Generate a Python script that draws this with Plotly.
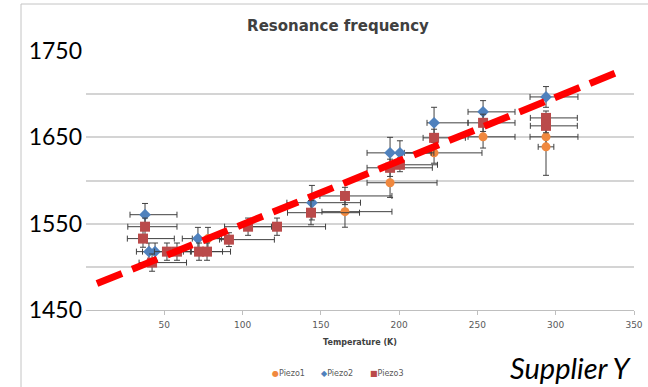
import plotly.graph_objects as go

# ---------------- data ----------------
# Piezo1 (orange circles)
p1_T = [293.8, 293.8, 253.6, 222.3, 194.2, 165.4, 77.9]
p1_F = [1650.6, 1639.0, 1650.6, 1632.0, 1597.4, 1563.9, 1532.7]
p1_Tm = [10.2, 5.0, 9.6, 19.0, 14.7, 14.7, 10.0]
p1_Tp = [20.4, 5.0, 20.4, 30.6, 30.0, 30.0, 15.0]
p1_Ferr = [10, 33, 13, 12, 17, 18, 13]

# Piezo2 (blue diamonds)
p2_T = [293.8, 253.6, 222.3, 194.2, 200.5, 144.3, 37.7, 40.2, 44.1, 71.5]
p2_F = [1696.8, 1679.5, 1666.8, 1632.0, 1632.0, 1574.3, 1560.4, 1517.6, 1517.6, 1532.7]
p2_Tm = [10.2, 9.6, 4.5, 14.7, 6.0, 16.0, 9.6, 8.0, 8.0, 10.0]
p2_Tp = [20.4, 20.4, 21.7, 28.0, 20.0, 31.0, 20.4, 15.0, 15.0, 15.0]
p2_Ferr = [12, 13, 18, 18, 14, 20, 13, 10, 10, 13]

# Piezo3 (red squares)
p3_T = [293.8, 293.8, 253.6, 222.3, 194.2, 200.5, 165.4, 143.7, 122.0, 103.5,
        91.3, 72.2, 77.3, 51.7, 58.1, 42.2, 37.7, 36.4]
p3_F = [1672.5, 1663.3, 1666.8, 1649.4, 1614.7, 1618.2, 1582.1, 1562.7, 1546.5, 1546.5,
        1531.5, 1517.6, 1517.6, 1517.6, 1517.6, 1504.9, 1546.5, 1532.7]
p3_Tm = [10.0, 10.0, 9.6, 7.0, 14.7, 6.0, 16.0, 15.0, 20.0, 15.0,
         6.0, 10.0, 10.0, 8.0, 8.0, 8.3, 11.0, 10.0]
p3_Tp = [20.0, 20.0, 20.4, 20.0, 27.0, 24.0, 30.0, 31.0, 31.0, 15.0,
         29.0, 15.0, 15.0, 15.0, 15.0, 22.0, 20.4, 20.0]
p3_Ferr = [8, 8, 10, 10, 10, 8, 10, 14, 10, 10, 8, 10, 10, 10, 10, 10, 10, 10]

# trend line (overlay)
trend_T = [7.0, 339.1]
trend_F = [1480.6, 1725.2]

x_ticks = [50, 100, 150, 200, 250, 300, 350]
y_ticks = [1450, 1500, 1550, 1600, 1650, 1700, 1750]
y_ticktext = ["1450", "", "1550", "", "1650", "", "1750"]

series_names = ["Piezo1", "Piezo2", "Piezo3"]
series_colors = ["#F0883E", "#4F81BD", "#BA4A4A"]
series_glyphs = ["●", "◆", "■"]

# ---------------- figure ----------------
EB = "#404040"


def ex(minus, plus):
    return dict(type="data", symmetric=False, array=plus, arrayminus=minus,
                color=EB, thickness=1, width=3)


def ey(err):
    return dict(type="data", array=err, color=EB, thickness=1, width=3)


fig = go.Figure()
fig.add_trace(go.Scatter(x=p1_T, y=p1_F, mode="markers", name=series_names[0],
                         marker=dict(symbol="circle", size=9, color=series_colors[0]),
                         error_x=ex(p1_Tm, p1_Tp), error_y=ey(p1_Ferr)))
fig.add_trace(go.Scatter(x=p2_T, y=p2_F, mode="markers", name=series_names[1],
                         marker=dict(symbol="diamond", size=9, color=series_colors[1]),
                         error_x=ex(p2_Tm, p2_Tp), error_y=ey(p2_Ferr)))
fig.add_trace(go.Scatter(x=p3_T, y=p3_F, mode="markers", name=series_names[2],
                         marker=dict(symbol="square", size=10, color=series_colors[2]),
                         error_x=ex(p3_Tm, p3_Tp), error_y=ey(p3_Ferr)))
fig.add_trace(go.Scatter(x=trend_T, y=trend_F, mode="lines", showlegend=False,
                         line=dict(color="#FF0000", width=7, dash="27px,11px"),
                         hoverinfo="skip"))

fig.update_layout(
    width=648, height=387,
    margin=dict(l=86, r=14, t=51, b=77, autoexpand=False),
    paper_bgcolor="white", plot_bgcolor="white",
    showlegend=False,
    title=dict(text="<b>Resonance frequency</b>", x=338 / 648, xref="container",
               xanchor="center", y=1 - 26 / 387, yref="container", yanchor="middle",
               font=dict(family="DejaVu Sans", size=15, color="#404040")),
    xaxis=dict(range=[0, 350], tickvals=x_ticks, showgrid=False, zeroline=False,
               showline=True, linecolor="#BFBFBF", linewidth=1,
               ticks="outside", ticklen=4, tickcolor="#BFBFBF", ticklabelstandoff=2,
               tickfont=dict(family="DejaVu Sans", size=9, color="#595959"),
               title=dict(text="<b>Temperature (K)</b>", standoff=10,
                          font=dict(family="DejaVu Sans", size=8, color="#404040"))),
    yaxis=dict(range=[1450, 1750], tickvals=y_ticks, ticktext=y_ticktext,
               showgrid=True, gridcolor="#D4D4D4", gridwidth=2, zeroline=False,
               showline=False, ticks="", ticklabelstandoff=3,
               tickfont=dict(family="Lato", size=23, color="#000000")),
)

# legend built as text entries below the axis title
legend_px = [270, 319, 368]
for name, col, glyph, px in zip(series_names, series_colors, series_glyphs, legend_px):
    fig.add_annotation(
        text=f'<span style="color:{col}">{glyph}</span>{name}',
        xref="paper", yref="paper", x=(px - 86) / 548, y=(310 - 373) / 259,
        xanchor="left", yanchor="middle", showarrow=False,
        font=dict(family="DejaVu Sans", size=8, color="#595959"))

fig.add_shape(type="rect", xref="paper", yref="paper",
              x0=(21 - 86) / 548, x1=1.5, y0=-0.8, y1=(310 - 4) / 259,
              line=dict(color="#C4C4C4", width=1), layer="below")

fig.add_annotation(text="Supplier Y", xref="paper", yref="paper",
                   x=(571 - 86) / 548, y=(310 - 367) / 259,
                   xanchor="center", yanchor="middle", showarrow=False,
                   font=dict(family="Lato", size=29, color="#000000", style="italic"))

fig.write_html("out.html",
               config={"displayModeBar": False},
               post_script="document.body.style.margin='0';"
                           "document.body.style.overflow='hidden';")
